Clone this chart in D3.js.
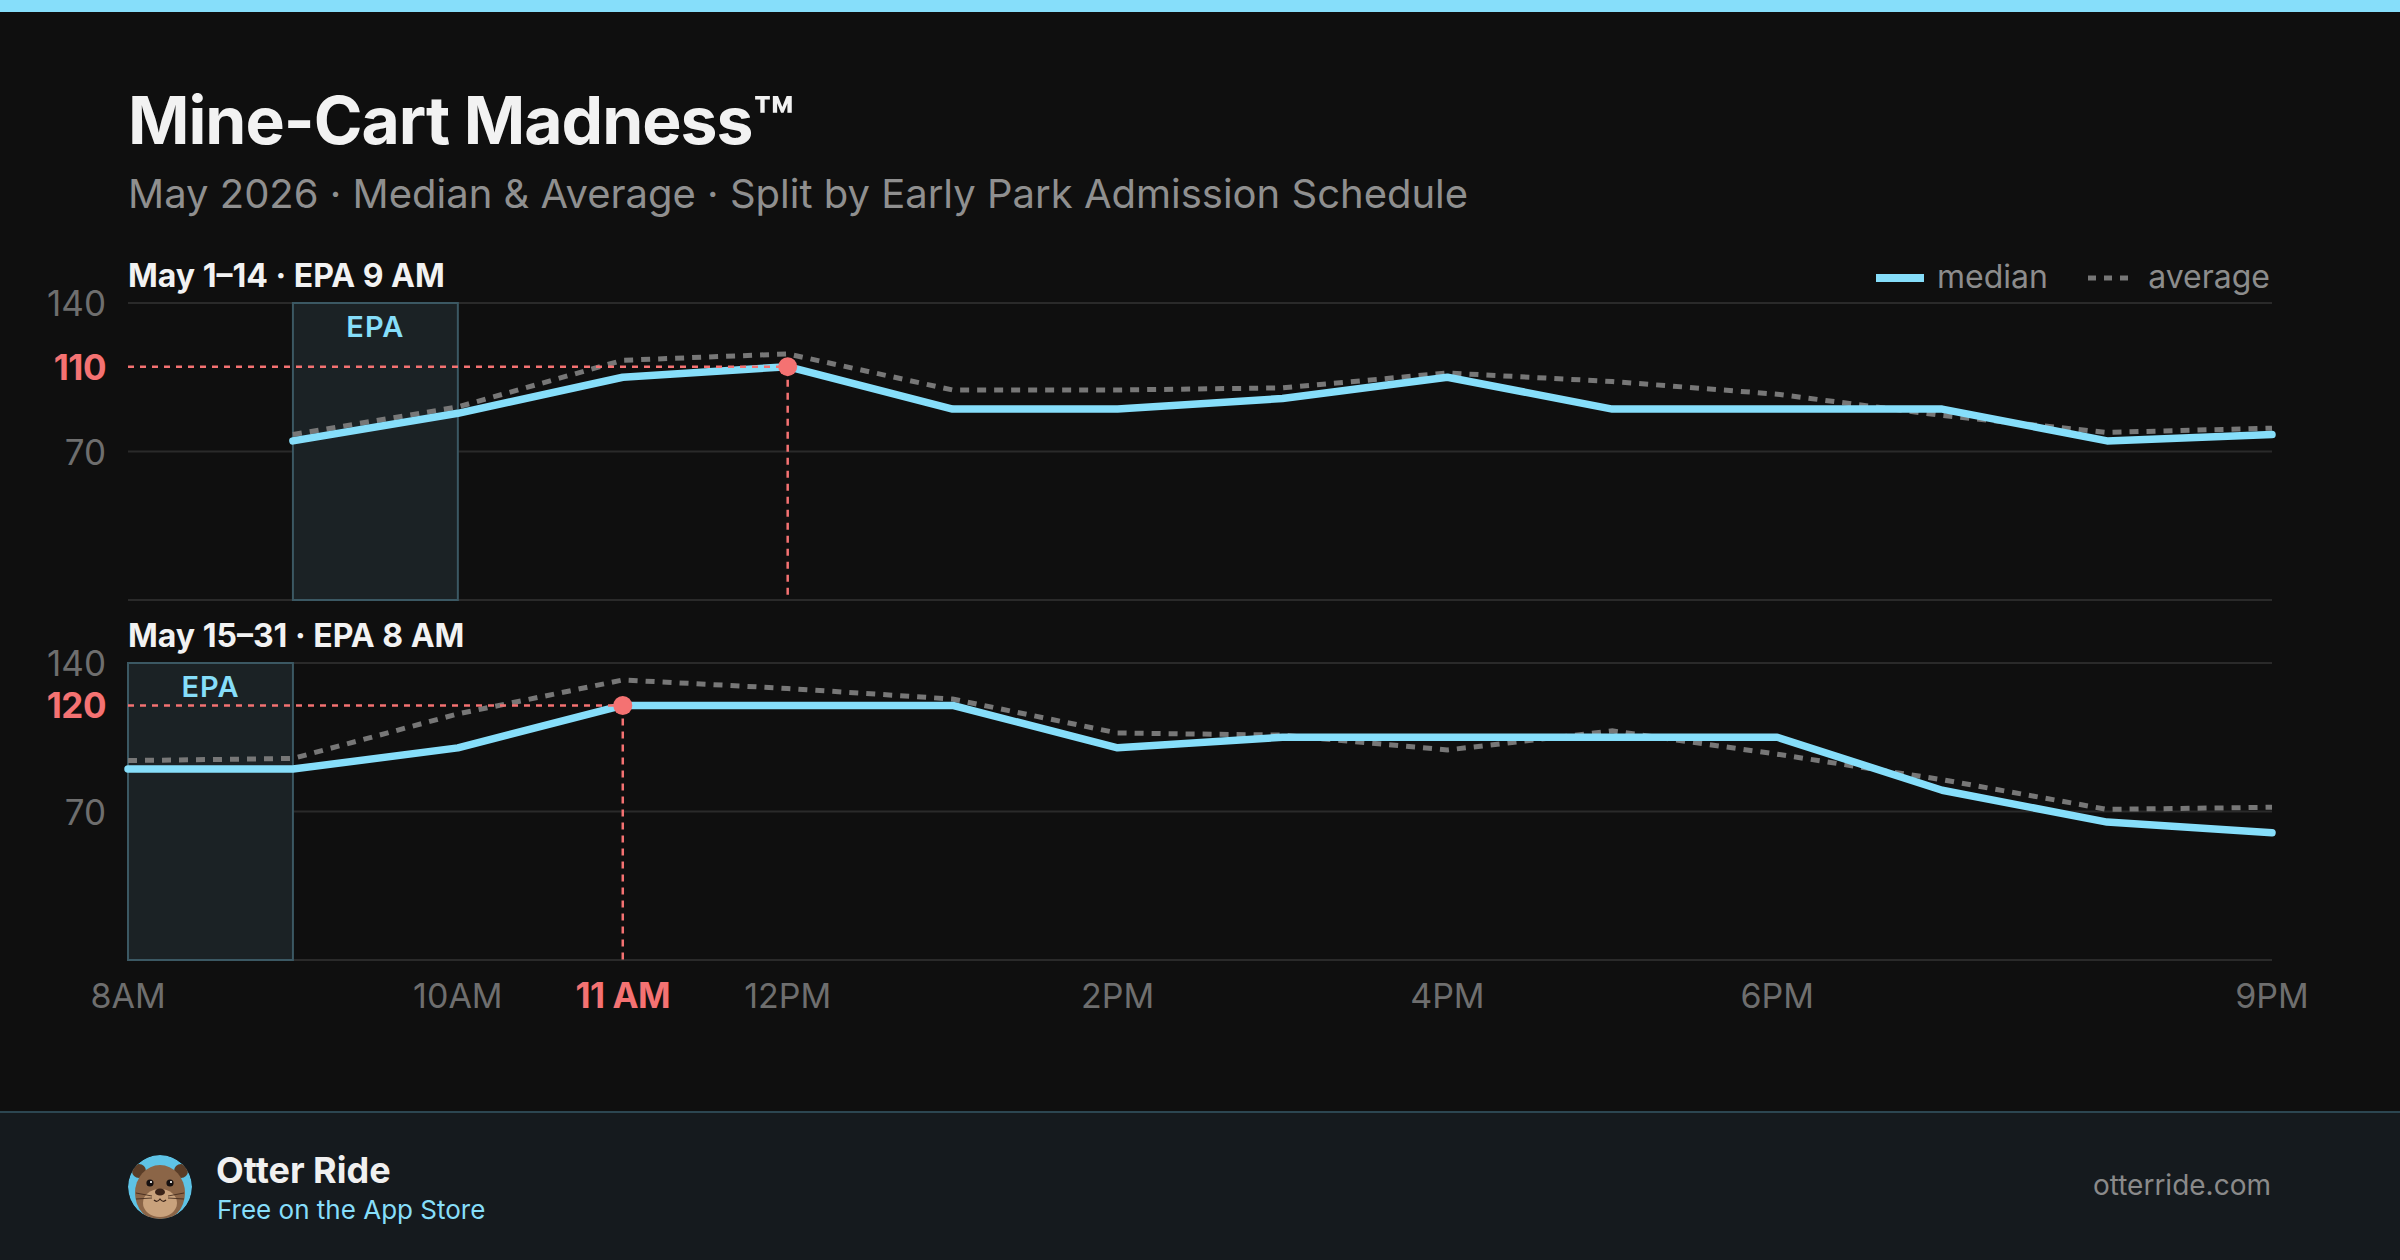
<!DOCTYPE html>
<html>
<head>
<meta charset="utf-8">
<script src="https://cdn.jsdelivr.net/npm/d3@7"></script>
<style>
  html, body { margin: 0; padding: 0; background: #0f0f0f; }
  svg { display: block; font-family: Inter, "Noto Sans", sans-serif; }
</style>
</head>
<body>
<svg id="chart" width="2400" height="1260"></svg>
<script>
// hours of the day, 8 = 8AM ... 21 = 9PM
const hours = [8, 9, 10, 11, 12, 13, 14, 15, 16, 17, 18, 19, 20, 21];
const tickHours = [8, 10, 11, 12, 14, 16, 18, 21];
const tickLabels = ["8AM", "10AM", "11 AM", "12PM", "2PM", "4PM", "6PM", "9PM"];
const yTicks = [70, 140];

// May 1–14 (EPA 9 AM), no 8AM reading
const earlyMedian = [null, 75, 88, 105, 110, 90, 90, 95, 105, 90, 90, 90, 75, 78];
const earlyAverage = [null, 78, 91, 113, 116, 99, 99, 100, 107, 103, 97, 87, 79, 81];
// May 15–31 (EPA 8 AM)
const lateMedian = [90, 90, 100, 120, 120, 120, 100, 105, 105, 105, 105, 80, 65, 60];
const lateAverage = [94, 95, 116, 132, 128, 123, 107, 106, 99, 108, 97, 85, 71, 72];

const panels = [
  { title: "May 1–14 · EPA 9 AM", median: earlyMedian, average: earlyAverage,
    epa: [9, 10], peakHour: 12, peakValue: 110, top: 303 },
  { title: "May 15–31 · EPA 8 AM", median: lateMedian, average: lateAverage,
    epa: [8, 9], peakHour: 11, peakValue: 120, top: 663 }
];

const cyan = "#86defa";
const red = "#f47272";
const panelHeight = 297;

const svg = d3.select("#chart");

svg.append("rect").attr("width", 2400).attr("height", 1260).attr("fill", "#0f0f0f");
svg.append("rect").attr("width", 2400).attr("height", 12).attr("fill", cyan);

svg.append("text")
  .attr("x", 128).attr("y", 144)
  .attr("font-size", 66).attr("font-weight", 700)
  .attr("fill", "#f2f2f2").attr("letter-spacing", -1)
  .text("Mine-Cart Madness™");

svg.append("text")
  .attr("x", 128).attr("y", 208)
  .attr("font-size", 40)
  .attr("fill", "#8f8f8f")
  .text("May 2026 · Median & Average · Split by Early Park Admission Schedule");

const x = d3.scaleLinear().domain([8, 21]).range([128, 2272]);

panels.forEach((p, i) => {
  const y = d3.scaleLinear().domain([0, 140]).range([p.top + panelHeight, p.top]);
  const g = svg.append("g");

  g.append("text")
    .attr("x", 128).attr("y", p.top - 16)
    .attr("font-size", 32).attr("font-weight", 700)
    .attr("fill", "#f2f2f2")
    .text(p.title);

  // gridlines at 0, 70, 140
  g.selectAll(".grid")
    .data([0, 70, 140])
    .join("line")
    .attr("x1", x(8)).attr("x2", x(21))
    .attr("y1", d => y(d)).attr("y2", d => y(d))
    .attr("stroke", "#2a2a2a").attr("stroke-width", 2);

  g.selectAll(".ytick")
    .data(yTicks)
    .join("text")
    .attr("x", 106).attr("y", d => y(d))
    .attr("text-anchor", "end").attr("dominant-baseline", "central")
    .attr("font-size", 35).attr("fill", "#6e6e6e")
    .text(d => d);

  g.append("text")
    .attr("x", 106).attr("y", y(p.peakValue))
    .attr("text-anchor", "end").attr("dominant-baseline", "central")
    .attr("font-size", 35).attr("font-weight", 700).attr("fill", red)
    .attr("letter-spacing", -0.5)
    .text(p.peakValue);

  // early park admission window
  g.append("rect")
    .attr("x", x(p.epa[0])).attr("y", y(140))
    .attr("width", x(p.epa[1]) - x(p.epa[0]))
    .attr("height", y(0) - y(140))
    .attr("fill", "#1b2225")
    .attr("stroke", "#3b5863").attr("stroke-width", 2);

  g.append("text")
    .attr("x", (x(p.epa[0]) + x(p.epa[1])) / 2).attr("y", y(140) + 34)
    .attr("text-anchor", "middle")
    .attr("font-size", 29).attr("font-weight", 600).attr("fill", cyan)
    .attr("letter-spacing", 1)
    .text("EPA");

  const line = d3.line()
    .defined(d => d[1] != null)
    .x(d => x(d[0]))
    .y(d => y(d[1]));

  g.append("path")
    .datum(hours.map((h, k) => [h, p.average[k]]))
    .attr("d", line)
    .attr("fill", "none")
    .attr("stroke", "#777777").attr("stroke-width", 5)
    .attr("stroke-dasharray", "9,8");

  g.append("path")
    .datum(hours.map((h, k) => [h, p.median[k]]))
    .attr("d", line)
    .attr("fill", "none")
    .attr("stroke", cyan).attr("stroke-width", 7.5)
    .attr("stroke-linejoin", "round").attr("stroke-linecap", "round");

  // peak guides
  g.append("line")
    .attr("x1", x(8)).attr("x2", x(p.peakHour))
    .attr("y1", y(p.peakValue)).attr("y2", y(p.peakValue))
    .attr("stroke", red)
    .attr("stroke-width", 2.5).attr("stroke-dasharray", "6,6");

  g.append("line")
    .attr("x1", x(p.peakHour)).attr("x2", x(p.peakHour))
    .attr("y1", y(p.peakValue)).attr("y2", y(0))
    .attr("stroke", red)
    .attr("stroke-width", 2.5).attr("stroke-dasharray", "7,6");

  g.append("circle")
    .attr("cx", x(p.peakHour)).attr("cy", y(p.peakValue))
    .attr("r", 9.5).attr("fill", red);

  if (i === 1) {
    g.selectAll(".xtick")
      .data(tickHours)
      .join("text")
      .attr("x", d => x(d)).attr("y", y(0) + 48)
      .attr("text-anchor", "middle")
      .attr("font-size", d => d === 11 ? 35 : 34)
      .attr("font-weight", d => d === 11 ? 700 : 400)
      .attr("fill", d => d === 11 ? red : "#6e6e6e")
      .attr("letter-spacing", d => d === 11 ? -0.5 : 0)
      .text((d, k) => tickLabels[k]);
  }
});

// legend
const legend = svg.append("g");
legend.append("line")
  .attr("x1", 1876).attr("x2", 1924).attr("y1", 278).attr("y2", 278)
  .attr("stroke", cyan).attr("stroke-width", 8);
legend.append("text")
  .attr("x", 1937).attr("y", 288)
  .attr("font-size", 32).attr("fill", "#8c8c8c")
  .text("median");
legend.append("line")
  .attr("x1", 2088).attr("x2", 2135).attr("y1", 278).attr("y2", 278)
  .attr("stroke", "#777777").attr("stroke-width", 5)
  .attr("stroke-dasharray", "8,8");
legend.append("text")
  .attr("x", 2270).attr("y", 288)
  .attr("text-anchor", "end")
  .attr("font-size", 32).attr("fill", "#8c8c8c")
  .text("average");

// footer
const footer = svg.append("g");
footer.append("rect")
  .attr("x", 0).attr("y", 1112).attr("width", 2400).attr("height", 148)
  .attr("fill", "#151a1e");
footer.append("line")
  .attr("x1", 0).attr("x2", 2400).attr("y1", 1112).attr("y2", 1112)
  .attr("stroke", "#2c4651").attr("stroke-width", 2);

const logo = footer.append("g").attr("transform", "translate(160,1187)");
svg.append("defs").append("clipPath").attr("id", "logoClip")
  .append("circle").attr("r", 32);
const face = logo.append("g").attr("clip-path", "url(#logoClip)");
face.append("circle").attr("r", 32).attr("fill", "#5ec3e6");
face.append("circle").attr("cx", -21).attr("cy", -16).attr("r", 7).attr("fill", "#5a3d28");
face.append("circle").attr("cx", 21).attr("cy", -16).attr("r", 7).attr("fill", "#5a3d28");
face.append("ellipse").attr("cx", 0).attr("cy", 6).attr("rx", 25).attr("ry", 28).attr("fill", "#8b6547");
face.append("ellipse").attr("cx", 0).attr("cy", 16).attr("rx", 17).attr("ry", 14).attr("fill", "#c9a27c");
face.append("circle").attr("cx", -10).attr("cy", -4).attr("r", 3.6).attr("fill", "#161010");
face.append("circle").attr("cx", 10).attr("cy", -4).attr("r", 3.6).attr("fill", "#161010");
face.append("circle").attr("cx", -9).attr("cy", -5).attr("r", 1.1).attr("fill", "#fff");
face.append("circle").attr("cx", 11).attr("cy", -5).attr("r", 1.1).attr("fill", "#fff");
face.append("ellipse").attr("cx", 0).attr("cy", 5).attr("rx", 5).attr("ry", 3.6).attr("fill", "#3a2318");
face.append("path").attr("d", "M-6,13 Q-3,16 0,12 Q3,16 6,13")
  .attr("fill", "none").attr("stroke", "#3a2318").attr("stroke-width", 1.2);
[[-8, 9, -24, 6], [-8, 11, -24, 12], [8, 9, 24, 6], [8, 11, 24, 12]].forEach(w => {
  face.append("line")
    .attr("x1", w[0]).attr("y1", w[1]).attr("x2", w[2]).attr("y2", w[3])
    .attr("stroke", "#3a2318").attr("stroke-width", 0.8);
});

footer.append("text")
  .attr("x", 216).attr("y", 1183)
  .attr("font-size", 36).attr("font-weight", 700).attr("fill", "#f0f0f0")
  .text("Otter Ride");
footer.append("text")
  .attr("x", 217).attr("y", 1219)
  .attr("font-size", 26).attr("fill", cyan)
  .text("Free on the App Store");
footer.append("text")
  .attr("x", 2271).attr("y", 1195)
  .attr("text-anchor", "end")
  .attr("font-size", 28).attr("fill", "#8a8a8a")
  .text("otterride.com");
</script>
</body>
</html>
